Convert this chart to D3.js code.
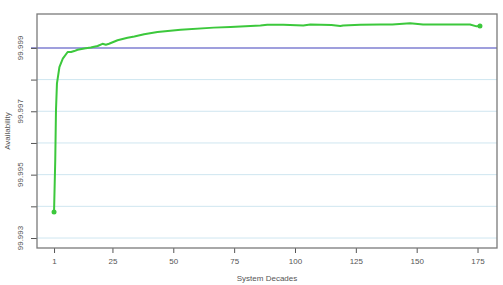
<!DOCTYPE html>
<html>
<head>
<meta charset="utf-8">
<script src="https://cdn.jsdelivr.net/npm/d3@7"></script>
<style>
  body { margin: 0; background: #fff; }
  text { font-family: "Liberation Sans", Arial, sans-serif; fill: #555; }
</style>
</head>
<body>
<div id="myDataVis"></div>
<script>
// data
const decades = [1, 1.5, 1.8, 2.2, 3.2, 4.6, 6.6, 8, 9.3, 10.7, 13.4, 16.1, 18.9, 20.9, 22.3, 23.6,
    27.1, 31.2, 34, 38, 43.5, 53, 66.6, 73.5, 85.8, 88.6, 95.2, 103.4, 106.3, 115, 118.6, 119.8,
    126.8, 135, 140, 147.3, 152.6, 160, 171.9, 174.6, 176];
const availability = [99.99382, 99.99546, 99.99703, 99.99788, 99.99839, 99.99866, 99.99887, 99.99887,
    99.99890, 99.99894, 99.99898, 99.99901, 99.99906, 99.99913, 99.99910, 99.99913,
    99.99924, 99.99932, 99.99936, 99.99943, 99.99950, 99.99957, 99.99964, 99.99966, 99.99971,
    99.99973, 99.99973, 99.99971, 99.99974, 99.99972, 99.99969, 99.99971,
    99.99973, 99.99974, 99.99974, 99.99978, 99.99974, 99.99974, 99.99974, 99.99968, 99.99969];
const xTicks = [1, 25, 50, 75, 100, 125, 150, 175];
const yLabelTicks = [99.993, 99.995, 99.997, 99.999];
const yGridTicks = [99.993, 99.994, 99.995, 99.996, 99.997, 99.998];
const target = 99.999;

let margin = { top: 14, right: 6, bottom: 37, left: 37 },
    width = 503 - margin.left - margin.right,
    height = 285 - margin.top - margin.bottom;

const data = decades.map((d, i) => ({ decade: d, value: availability[i] }));

const svg = d3.select("#myDataVis")
    .append("svg")
    .attr("width", 503)
    .attr("height", 285)
    .append("g")
    .attr("transform", `translate(${margin.left},${margin.top})`);

const xScale = d3.scaleLinear().domain([-6, 183]).range([0, width]);
const yScale = d3.scaleLinear().domain([99.992685, 100.00007]).range([height, 0]);

// light blue grid lines
svg.selectAll(".grid")
    .data(yGridTicks)
    .enter()
    .append("line")
    .attr("x1", 0)
    .attr("x2", width)
    .attr("y1", d => yScale(d))
    .attr("y2", d => yScale(d))
    .attr("stroke", "#cfe6f0")
    .attr("stroke-width", 1);

// target line
svg.append("line")
    .attr("x1", -6)
    .attr("x2", width)
    .attr("y1", yScale(target))
    .attr("y2", yScale(target))
    .attr("stroke", "#7f7fd2")
    .attr("stroke-width", 1.5);

// axes
const xAxis = svg.append("g")
    .attr("transform", `translate(0,${height})`)
    .call(d3.axisBottom(xScale).tickValues(xTicks).tickSize(5).tickPadding(5));
xAxis.select(".domain").remove();
xAxis.selectAll("line").attr("stroke", "#555");
xAxis.selectAll("text").style("font-size", "8px").attr("fill", "#555");

const yAxis = svg.append("g")
    .call(d3.axisLeft(yScale).tickValues([...yGridTicks, 99.999]).tickSize(6).tickFormat(""));
yAxis.select(".domain").remove();
yAxis.selectAll("line").attr("stroke", "#555");

svg.selectAll(".ylab")
    .data(yLabelTicks)
    .enter()
    .append("text")
    .attr("transform", d => `translate(-14,${yScale(d)}) rotate(-90)`)
    .style("text-anchor", "middle")
    .style("font-size", "8px")
    .text(d => d3.format(".3f")(d));

// box
svg.append("rect")
    .attr("width", width)
    .attr("height", height)
    .attr("fill", "none")
    .attr("stroke", "#7a7a7a")
    .attr("stroke-width", 1.3);

// availability line
svg.append("path")
    .datum(data)
    .attr("fill", "none")
    .attr("stroke", "#3cc83c")
    .attr("stroke-width", 2)
    .attr("stroke-linejoin", "round")
    .attr("d", d3.line().x(d => xScale(d.decade)).y(d => yScale(d.value)));

svg.selectAll(".endpoint")
    .data([data[0], data[data.length - 1]])
    .enter()
    .append("circle")
    .attr("cx", d => xScale(d.decade))
    .attr("cy", d => yScale(d.value))
    .attr("r", 2.5)
    .attr("fill", "#3cc83c");

// axis labels
svg.append("text")
    .attr("transform", `translate(${width / 2},${height + 33})`)
    .style("text-anchor", "middle")
    .style("font-size", "8px")
    .text("System Decades");

svg.append("text")
    .attr("transform", `translate(-27,${height / 2}) rotate(-90)`)
    .style("text-anchor", "middle")
    .style("font-size", "8px")
    .text("Availability");
</script>
</body>
</html>
